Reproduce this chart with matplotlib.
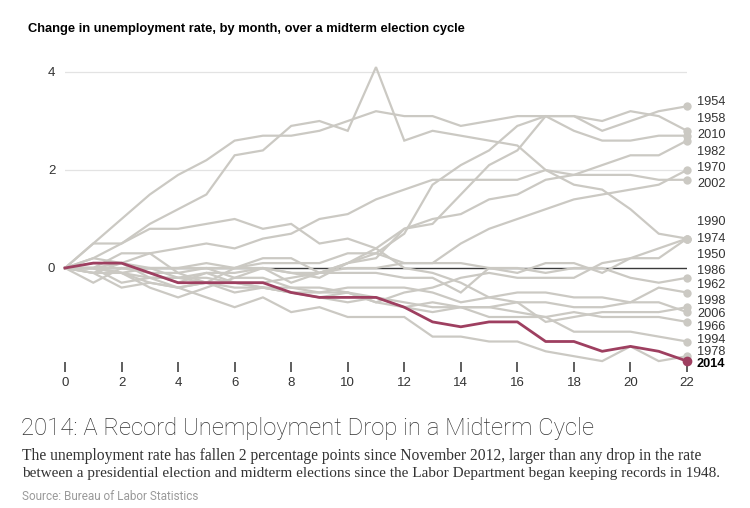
import matplotlib
matplotlib.use("Agg")
import matplotlib.pyplot as plt

months = list(range(23))

years = ["1950", "1954", "1958", "1962", "1966", "1970", "1974", "1978",
         "1982", "1986", "1990", "1994", "1998", "2002", "2006", "2010"]

y1950 = [0, 0.2, 0.5, 0.9, 1.2, 1.5, 2.3, 2.4, 2.9, 3.0, 2.8, 4.1, 2.6, 2.8, 2.7, 2.6, 2.5, 2.0, 1.7, 1.6, 1.2, 0.7, 0.6]
y1954 = [0, -0.1, 0.1, -0.2, -0.2, -0.1, -0.3, -0.3, -0.2, -0.1, 0.1, 0.3, 0.7, 1.7, 2.1, 2.4, 2.9, 3.1, 3.1, 2.8, 3.0, 3.2, 3.3]
y1958 = [0, -0.1, -0.1, -0.4, -0.6, -0.4, -0.2, 0, -0.1, -0.2, 0.1, 0.2, 0.8, 0.9, 1.5, 2.1, 2.4, 3.1, 3.1, 3.0, 3.2, 3.1, 2.8]
y1962 = [0, 0.5, 0.5, 0.8, 0.8, 0.9, 1.0, 0.8, 0.9, 0.5, 0.6, 0.4, 0, -0.1, -0.3, -0.6, -0.5, -0.5, -0.6, -0.6, -0.7, -0.4, -0.5]
y1966 = [0, 0.2, 0.1, 0.3, -0.1, 0, -0.2, -0.2, -0.4, -0.4, -0.5, -0.6, -0.7, -0.8, -0.8, -1.0, -1.0, -1.0, -0.9, -1.0, -1.0, -1.0, -1.1]
y1970 = [0, 0, 0, 0, 0, 0, 0, 0.1, 0.1, 0.1, 0.3, 0.3, 0.1, 0.1, 0.5, 0.8, 1.0, 1.2, 1.4, 1.5, 1.6, 1.7, 2.0]
y1974 = [0, -0.1, -0.4, -0.3, -0.4, -0.3, -0.4, -0.4, -0.5, -0.5, -0.5, -0.7, -0.5, -0.4, -0.2, -0.1, -0.2, -0.2, -0.2, 0.1, 0.2, 0.2, 0.6]
y1978 = [0, 0, -0.3, -0.2, -0.4, -0.6, -0.8, -0.6, -0.9, -0.8, -1.0, -1.0, -1.0, -1.4, -1.4, -1.5, -1.5, -1.7, -1.8, -1.9, -1.6, -1.9, -1.8]
y1982 = [0, -0.3, 0, -0.1, -0.1, -0.3, 0, 0, -0.3, -0.1, 0.1, 0.4, 0.8, 1.0, 1.1, 1.4, 1.5, 1.8, 1.9, 2.1, 2.3, 2.3, 2.6]
y1986 = [0, 0.1, 0.1, 0, 0, 0.1, 0, 0.2, 0.2, -0.1, -0.1, -0.1, -0.2, -0.2, -0.5, 0, 0, -0.1, 0, 0, -0.2, -0.3, -0.2]
y1990 = [0, 0, 0.1, -0.1, -0.3, -0.1, -0.1, 0, -0.1, -0.1, 0, 0, 0.1, 0.1, 0.1, 0, -0.1, 0.1, 0.1, -0.1, 0.2, 0.4, 0.6]
y1994 = [0, 0, -0.1, -0.3, -0.4, -0.3, -0.3, -0.4, -0.5, -0.6, -0.7, -0.6, -0.8, -0.9, -0.8, -0.8, -0.9, -1.0, -1.3, -1.3, -1.3, -1.4, -1.5]
y1998 = [0, 0, -0.1, -0.2, -0.2, -0.3, -0.5, -0.4, -0.5, -0.6, -0.5, -0.7, -0.8, -0.7, -0.8, -0.8, -0.7, -1.1, -1.0, -0.9, -0.9, -0.9, -0.8]
y2002 = [0, 0, 0.3, 0.3, 0.4, 0.5, 0.4, 0.6, 0.7, 1.0, 1.1, 1.4, 1.6, 1.8, 1.8, 1.8, 1.8, 2.0, 1.9, 1.9, 1.9, 1.8, 1.8]
y2006 = [0, 0, -0.1, 0, -0.2, -0.2, -0.3, -0.4, -0.4, -0.5, -0.4, -0.4, -0.4, -0.5, -0.7, -0.6, -0.7, -0.7, -0.8, -0.8, -0.7, -0.7, -0.9]
y2010 = [0, 0.5, 1.0, 1.5, 1.9, 2.2, 2.6, 2.7, 2.7, 2.8, 3.0, 3.2, 3.1, 3.1, 2.9, 3.0, 3.1, 3.1, 2.8, 2.6, 2.6, 2.7, 2.7]
y2014 = [0, 0.1, 0.1, -0.1, -0.3, -0.3, -0.3, -0.3, -0.5, -0.6, -0.6, -0.6, -0.8, -1.1, -1.2, -1.1, -1.1, -1.5, -1.5, -1.7, -1.6, -1.7, -1.9]

series = {"1950": y1950, "1954": y1954, "1958": y1958, "1962": y1962,
          "1966": y1966, "1970": y1970, "1974": y1974, "1978": y1978,
          "1982": y1982, "1986": y1986, "1990": y1990, "1994": y1994,
          "1998": y1998, "2002": y2002, "2006": y2006, "2010": y2010}

xticks = list(range(0, 23, 2))
yticks = [0, 2, 4]

# label layout (vertical positions of right-hand labels, in axis units)
label_pos = {"1954": 3.39, "1958": 3.04, "2010": 2.71, "1982": 2.37,
             "1970": 2.04, "2002": 1.71, "1990": 0.94, "1974": 0.59,
             "1950": 0.27, "1986": -0.06, "1962": -0.35, "1998": -0.67,
             "2006": -0.94, "1966": -1.20, "1994": -1.47, "1978": -1.71,
             "2014": -1.96}

GRAY = "#cbc9c3"
RED = "#9e3f60"
TXT = "#333333"

W, H = 750, 508
fig = plt.figure(figsize=(7.5, 5.08), dpi=100)
left_px, right_px = 65, 687
ylo, yhi = -2.12, 4.3
py_per = 49.0
top_px = 268 - yhi * py_per
bot_px = 268 - ylo * py_per
ax = fig.add_axes([left_px / W, 1 - bot_px / H, (right_px - left_px) / W, (bot_px - top_px) / H])
ax.set_xlim(0, 22)
ax.set_ylim(ylo, yhi)
for s in ax.spines.values():
    s.set_visible(False)

for g in [2, 4]:
    ax.axhline(g, color="#e3e3e3", lw=0.9, zorder=0)
ax.axhline(0, color="#3a3a3a", lw=1.0, zorder=1)

for yr in years:
    vals = series[yr]
    ax.plot(months, vals, color=GRAY, lw=1.6, zorder=2, clip_on=False,
            solid_joinstyle="miter")
    ax.plot([months[-1]], [vals[-1]], "o", color=GRAY, ms=6, zorder=3,
            clip_on=False, mec="none")
ax.plot(months, y2014, color=RED, lw=2.0, zorder=5, clip_on=False)
ax.plot([months[-1]], [y2014[-1]], "o", color=RED, ms=7, zorder=6,
        clip_on=False, mec="none")

for yr, yp in label_pos.items():
    bold = yr == "2014"
    ax.text(22.35, yp, yr, fontsize=9.2, color="#000000" if bold else TXT,
            fontweight="bold" if bold else "normal", va="center", ha="left",
            family="Liberation Sans", clip_on=False)

ax.set_xticks(xticks)
ax.set_xticklabels([str(t) for t in xticks])
ax.set_yticks(yticks)
ax.set_yticklabels([str(t) for t in yticks])
ax.tick_params(axis="x", direction="in", length=7, width=1.1, color=TXT,
               labelsize=9.5, labelcolor=TXT, pad=4)
ax.tick_params(axis="y", length=0, labelsize=9.5, labelcolor=TXT, pad=7)
for lab in ax.get_xticklabels() + ax.get_yticklabels():
    lab.set_family("Liberation Sans")

fig.text(28 / W, 1 - 29 / H, "Change in unemployment rate, by month, over a midterm election cycle",
         fontsize=9.25, fontweight="bold", family="Liberation Sans", color="#000000",
         va="center", ha="left")

fig.text(21 / W, 1 - 428 / H, "2014: A Record Unemployment Drop in a Midterm Cycle",
         fontsize=17.2, fontweight="light", family="Roboto", color="#333333",
         va="center", ha="left")

fig.text(22 / W, 1 - 456 / H,
         "The unemployment rate has fallen 2 percentage points since November 2012, larger than any drop in the rate",
         fontsize=11.25, family="Liberation Serif", color=TXT, va="center", ha="left")
fig.text(22 / W, 1 - 473 / H,
         "between a presidential election and midterm elections since the Labor Department began keeping records in 1948.",
         fontsize=10.95, family="Liberation Serif", color=TXT, va="center", ha="left")

fig.text(22 / W, 1 - 497 / H, "Source: Bureau of Labor Statistics",
         fontsize=8.5, family="Roboto", color="#9a9a9a", va="center", ha="left")

fig.savefig("out.png", dpi=100)
